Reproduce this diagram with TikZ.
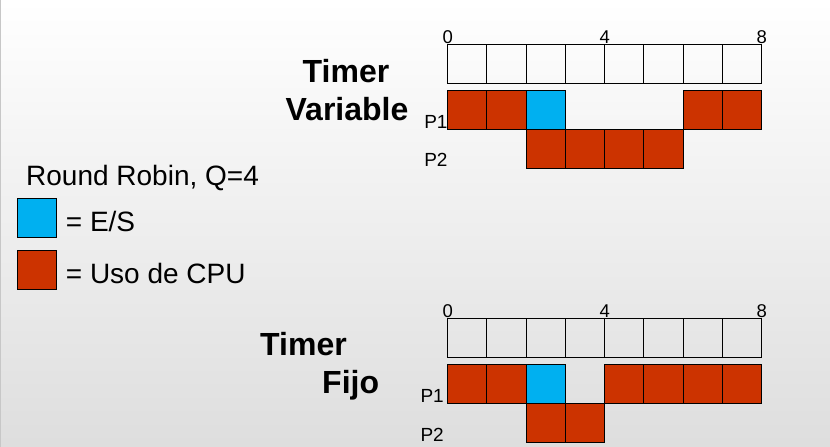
\documentclass[tikz,border=0pt]{standalone}
\usepackage{fontspec}
\setmainfont{Liberation Sans}
\usetikzlibrary{positioning}
\definecolor{cpured}{HTML}{CC3300}
\definecolor{esblue}{HTML}{00B0F0}
\tikzset{
  cell/.style={rectangle, draw=black, line width=1pt, minimum width=39.25pt, minimum height=39pt, inner sep=0pt, outer sep=0pt}, % one time slot
  cpu/.style={cell, fill=cpured}, % slot where the process uses the CPU
  es/.style={cell, fill=esblue}, % slot where the process does E/S
  tick/.style={font=\fontsize{18.5}{20}\selectfont, inner sep=1pt}, % time marks over the grid
  plabel/.style={font=\fontsize{19}{20}\selectfont, inner sep=0pt, anchor=base east}, % process names
  title/.style={font=\fontsize{32}{36}\selectfont\bfseries, inner sep=0pt, anchor=base}, % chart titles
  legend/.style={font=\fontsize{28}{32}\selectfont, inner sep=0pt, anchor=base west}, % key texts
}

\begin{document}
\begin{tikzpicture}[x=1pt, y=-1pt]
    % slide background
    \fill[top color=white, bottom color=black!13] (0,0) rectangle (830,446);
    \draw[black!22, line width=1pt] (0.5,0) -- (0.5,446);
    \useasboundingbox (0,0) rectangle (830,446);

    % key
    \node[legend] (KEY_TITLE) at (26,185) {Round Robin, Q=4};
    \node[es, anchor=north west] (KEY_ES) at (17.3,198.3) {};
    \node[legend] (KEY_ES_TEXT) at (65.7,231) {= E/S};
    \node[cpu, anchor=north west] (KEY_CPU) at (17.3,250) {};
    \node[legend] (KEY_CPU_TEXT) at (65.7,282.7) {= Uso de CPU};

    % Timer Variable
    \node[title] (TV_TITLE_1) at (346,81.7) {Timer};
    \node[title] (TV_TITLE_2) at (347,120) {Variable};

    \node[cell, anchor=north west] (TV_H1) at (447.7,44) {};
    \node[cell, right=0pt of TV_H1] (TV_H2) {};
    \node[cell, right=0pt of TV_H2] (TV_H3) {};
    \node[cell, right=0pt of TV_H3] (TV_H4) {};
    \node[cell, right=0pt of TV_H4] (TV_H5) {};
    \node[cell, right=0pt of TV_H5] (TV_H6) {};
    \node[cell, right=0pt of TV_H6] (TV_H7) {};
    \node[cell, right=0pt of TV_H7] (TV_H8) {};

    \node[tick, anchor=south] (TV_T0) at (TV_H1.north west) {0};
    \node[tick, anchor=south] (TV_T4) at (TV_H5.north west) {4};
    \node[tick, anchor=south] (TV_T8) at (TV_H8.north east) {8};

    \node[cpu, below=7.3pt of TV_H1] (TV_P1_1) {};
    \node[cpu, right=0pt of TV_P1_1] (TV_P1_2) {};
    \node[es, right=0pt of TV_P1_2] (TV_P1_3) {};
    \node[cpu, below=7.3pt of TV_H7] (TV_P1_7) {};
    \node[cpu, right=0pt of TV_P1_7] (TV_P1_8) {};

    \node[cpu, below=0pt of TV_P1_3] (TV_P2_3) {};
    \node[cpu, right=0pt of TV_P2_3] (TV_P2_4) {};
    \node[cpu, right=0pt of TV_P2_4] (TV_P2_5) {};
    \node[cpu, right=0pt of TV_P2_5] (TV_P2_6) {};

    \node[plabel, yshift=1.6pt] (TV_P1) at (TV_P1_1.south west) {P1};
    \node[plabel, yshift=-36.7pt] (TV_P2) at (TV_P1_1.south west) {P2};

    % Timer Fijo
    \node[title, anchor=base west] (TF_TITLE_1) at (260,355) {Timer};
    \node[title, anchor=base west] (TF_TITLE_2) at (322,392.7) {Fijo};

    \node[cell, anchor=north west] (TF_H1) at (447.7,318.3) {};
    \node[cell, right=0pt of TF_H1] (TF_H2) {};
    \node[cell, right=0pt of TF_H2] (TF_H3) {};
    \node[cell, right=0pt of TF_H3] (TF_H4) {};
    \node[cell, right=0pt of TF_H4] (TF_H5) {};
    \node[cell, right=0pt of TF_H5] (TF_H6) {};
    \node[cell, right=0pt of TF_H6] (TF_H7) {};
    \node[cell, right=0pt of TF_H7] (TF_H8) {};

    \node[tick, anchor=south] (TF_T0) at (TF_H1.north west) {0};
    \node[tick, anchor=south] (TF_T4) at (TF_H5.north west) {4};
    \node[tick, anchor=south] (TF_T8) at (TF_H8.north east) {8};

    \node[cpu, below=7pt of TF_H1] (TF_P1_1) {};
    \node[cpu, right=0pt of TF_P1_1] (TF_P1_2) {};
    \node[es, right=0pt of TF_P1_2] (TF_P1_3) {};
    \node[cpu, below=7pt of TF_H5] (TF_P1_5) {};
    \node[cpu, right=0pt of TF_P1_5] (TF_P1_6) {};
    \node[cpu, right=0pt of TF_P1_6] (TF_P1_7) {};
    \node[cpu, right=0pt of TF_P1_7] (TF_P1_8) {};

    \node[cpu, below=0pt of TF_P1_3] (TF_P2_3) {};
    \node[cpu, right=0pt of TF_P2_3] (TF_P2_4) {};

    \node[plabel, xshift=-3.7pt, yshift=1pt] (TF_P1) at (TF_P1_1.south west) {P1};
    \node[plabel, xshift=-3.7pt, yshift=-37.4pt] (TF_P2) at (TF_P1_1.south west) {P2};
\end{tikzpicture}
\end{document}
